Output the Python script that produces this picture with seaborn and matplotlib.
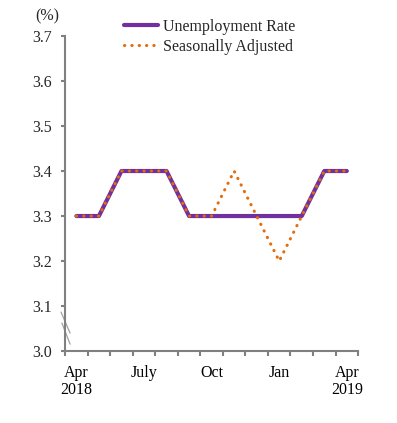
import numpy as np
import pandas as pd
import matplotlib
matplotlib.use("Agg")
import matplotlib.pyplot as plt
import seaborn as sns

# data
bulan = ["Apr", "May", "Jun", "July", "Aug", "Sep", "Oct", "Nov", "Dec",
         "Jan", "Feb", "Mar", "Apr"]
unemployment = [3.3, 3.3, 3.4, 3.4, 3.4, 3.3, 3.3, 3.3, 3.3, 3.3, 3.3, 3.4, 3.4]
seasonal = [3.3, 3.3, 3.4, 3.4, 3.4, 3.3, 3.3, 3.4, 3.3, 3.2, 3.3, 3.4, 3.4]
tick_pos = [0, 3, 6, 9, 12]
tick_labels = ["Apr\n2018", "July", "Oct", "Jan", "Apr\n2019"]

df = pd.DataFrame({"idx": np.arange(len(bulan)),
                   "Unemployment Rate": unemployment,
                   "Seasonally Adjusted": seasonal})

sns.set_theme(style="white")
plt.rcParams['font.family'] = ['Liberation Serif', 'DejaVu Serif']

fig = plt.figure(figsize=(3.97, 4.23), dpi=100)
ax = fig.add_axes([0.164, 0.170, 0.738, 0.745])

gray = "#808080"
fs = 11.5
sns.lineplot(data=df, x="idx", y="Unemployment Rate", ax=ax, color="#7030A0",
             linewidth=3.0, label="Unemployment Rate")
sns.lineplot(data=df, x="idx", y="Seasonally Adjusted", ax=ax, color="#E46C0A",
             linewidth=2.2, linestyle=(0, (0.1, 2.3)), dash_capstyle="round",
             label="Seasonally Adjusted")

ax.set_xlim(-0.5, 12.5)
ax.set_ylim(3.0, 3.7)
ax.set_yticks(np.arange(3.0, 3.71, 0.1))
ax.set_yticklabels([f"{v:.1f}" for v in np.arange(3.0, 3.71, 0.1)])
ax.set_xticks(tick_pos)
ax.set_xticklabels(tick_labels, linespacing=1.1)
ax.set_xticks(np.arange(-0.5, 12.6, 1), minor=True)
ax.tick_params(axis="x", which="major", length=0, pad=10, labelsize=fs, colors="black")
ax.tick_params(axis="x", which="minor", length=3.6, width=1.5, color=gray, direction="out", bottom=True)
ax.tick_params(axis="y", length=3.2, width=1.5, color=gray, direction="out", left=True,
               labelsize=fs, pad=6.5)
ax.set_xlabel("")
ax.set_ylabel("")

for s in ["top", "right"]:
    ax.spines[s].set_visible(False)
for s in ["left", "bottom"]:
    ax.spines[s].set_color(gray)
    ax.spines[s].set_linewidth(1.5)

# tanda patahan sumbu
ax.plot([-0.014, 0.017], [0.124, 0.057], transform=ax.transAxes,
        color="#a0a0a0", linewidth=0.9, clip_on=False)
ax.plot([-0.011, 0.017], [0.089, 0.022], transform=ax.transAxes,
        color="#a0a0a0", linewidth=0.9, clip_on=False)

fig.text(0.118, 0.962, "(%)", fontsize=fs, ha="center", va="center")

leg = ax.legend(loc="upper left", bbox_to_anchor=(0.175, 1.08), frameon=False,
                fontsize=fs, handlelength=2.1, handletextpad=0.3,
                labelspacing=0.25, borderpad=0)

fig.savefig("out.png", dpi=100)
